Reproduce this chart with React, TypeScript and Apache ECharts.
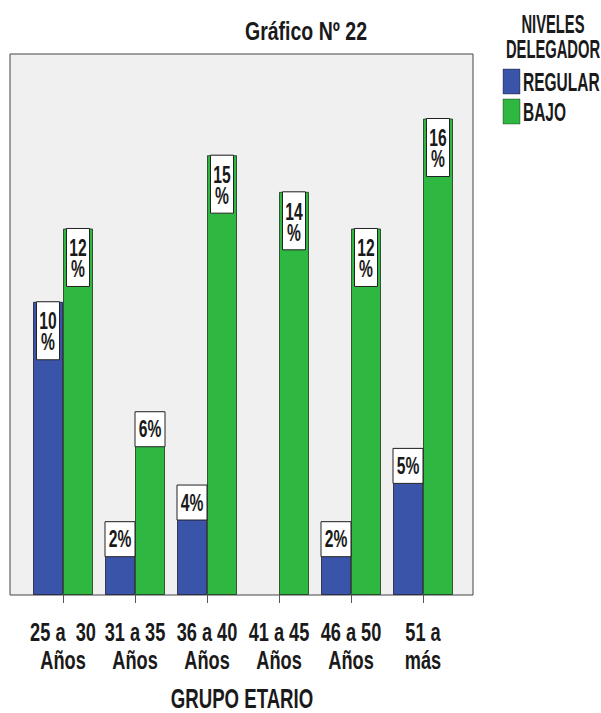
import React, { useEffect, useRef } from "react";
import * as echarts from "echarts";

const categories = ["25 a  30\nAños", "31 a 35\nAños", "36 a 40\nAños", "41 a 45\nAños", "46 a 50\nAños", "51 a\nmás"];
const seriesNames = ["REGULAR", "BAJO"];
const seriesColors = ["#3A54AA", "#2EB842"];
// bar heights (counts)
const regularValues = [8, 2, 3, 0, 2, 4];
const bajoValues = [10, 5, 12, 11, 10, 13];
// percentage labels shown on the bars
const regularPct = ["10", "2", "4", "", "2", "5"];
const bajoPct = ["12", "6", "15", "14", "12", "16"];
const titleText = "Gráfico Nº 22";
const legendTitle = "NIVELES\nDELEGADOR";
const axisTitle = "GRUPO ETARIO";

const FONT = "'Liberation Sans', Arial, sans-serif";
const BAR_W = 30;
const TEXT_COLOR = "#1a1a1a";

function barData(values: number[]) {
  return values.map((v) => (v === 0 ? { value: v, itemStyle: { borderWidth: 0 } } : v));
}

function labelSeries(values: number[], pcts: string[], offset: number) {
  return {
    type: "custom",
    z: 5,
    silent: true,
    clip: false,
    encode: { x: 0, y: 1 },
    data: values.map((v, i) => [i, v]),
    renderItem: (params: any, api: any) => {
      const i = params.dataIndex;
      const v = values[i];
      if (!v) return null;
      const pt = api.coord([i, v]);
      const two = pcts[i].length >= 2;
      const w = two ? 23 : 30;
      const h = two ? 58 : 35;
      const cx = pt[0] + offset;
      return {
        type: "group",
        children: [
          {
            type: "rect",
            shape: { x: cx - w / 2, y: pt[1], width: w, height: h },
            style: { fill: "#ffffff", stroke: "#222", lineWidth: 1 },
          },
          {
            type: "text",
            x: cx,
            y: pt[1] + (two ? 30 : 17.5),
            scaleX: 0.68,
            style: {
              text: two ? pcts[i] + "\n%" : pcts[i] + "%",
              fontSize: 23,
              lineHeight: 21,
              fontWeight: "bold",
              fontFamily: FONT,
              fill: TEXT_COLOR,
              align: "center",
              verticalAlign: "middle",
            },
          },
        ],
      };
    },
  };
}

function categoryLabelSeries() {
  return {
    type: "custom",
    z: 5,
    silent: true,
    clip: false,
    encode: { x: 0, y: 1 },
    data: categories.map((_, i) => [i, 0]),
    renderItem: (params: any, api: any) => {
      const i = params.dataIndex;
      const pt = api.coord([i, 0]);
      const lines = categories[i].split("\n");
      return {
        type: "group",
        children: lines.map((ln, k) => ({
          type: "text",
          x: pt[0],
          y: pt[1] + 37 + k * 28,
          scaleX: 0.7,
          style: {
            text: ln,
            fontSize: 26,
            fontWeight: "bold",
            fontFamily: FONT,
            fill: TEXT_COLOR,
            align: "center",
            verticalAlign: "middle",
          },
        })),
      };
    },
  };
}

export default function App() {
  const ref = useRef<HTMLDivElement>(null);
  useEffect(() => {
    if (!ref.current) return;
    const chart = echarts.init(ref.current, undefined, { renderer: "svg" });
    const legendItems: any[] = [];
    seriesNames.forEach((n, k) => {
      legendItems.push({
        type: "rect",
        shape: { x: 503, y: 69 + k * 30, width: 17, height: 25 },
        style: { fill: seriesColors[k], stroke: "rgba(0,0,0,0.35)", lineWidth: 1 },
      });
      legendItems.push({
        type: "text",
        x: 523,
        y: 82 + k * 30,
        scaleX: 0.62,
        style: {
          text: n,
          fontSize: 25,
          fontWeight: "bold",
          fontFamily: FONT,
          fill: TEXT_COLOR,
          align: "left",
          verticalAlign: "middle",
        },
      });
    });
    chart.setOption({
      animation: false,
      backgroundColor: "#ffffff",
      grid: { left: 27, right: 142, top: 54, bottom: 118, containLabel: false },
      graphic: [
        {
          type: "rect",
          z: -10,
          shape: { x: 10, y: 54, width: 463, height: 541 },
          style: { fill: "#F0F0F0", stroke: "#444", lineWidth: 1 },
        },
        {
          type: "text",
          x: 306,
          y: 31,
          scaleX: 0.75,
          style: {
            text: titleText,
            fontSize: 26,
            fontWeight: "bold",
            fontFamily: FONT,
            fill: TEXT_COLOR,
            align: "center",
            verticalAlign: "middle",
          },
        },
        {
          type: "text",
          x: 553,
          y: 36,
          scaleX: 0.59,
          style: {
            text: legendTitle,
            fontSize: 25,
            lineHeight: 25,
            fontWeight: "bold",
            fontFamily: FONT,
            fill: TEXT_COLOR,
            align: "center",
            verticalAlign: "middle",
          },
        },
        {
          type: "text",
          x: 242,
          y: 699,
          scaleX: 0.69,
          style: {
            text: axisTitle,
            fontSize: 27,
            fontWeight: "bold",
            fontFamily: FONT,
            fill: TEXT_COLOR,
            align: "center",
            verticalAlign: "middle",
          },
        },
        ...legendItems,
      ],
      xAxis: {
        type: "category",
        data: categories,
        axisLine: { show: false },
        axisTick: { show: true, alignWithLabel: true, length: 8, lineStyle: { color: "#555" } },
        axisLabel: { show: false },
      },
      yAxis: { type: "value", min: 0, max: 14.76, show: false, splitLine: { show: false } },
      series: [
        {
          name: seriesNames[0],
          type: "bar",
          barWidth: BAR_W,
          barGap: "0%",
          itemStyle: { color: seriesColors[0], borderColor: "rgba(20,20,40,0.75)", borderWidth: 1 },
          data: barData(regularValues),
        },
        {
          name: seriesNames[1],
          type: "bar",
          barWidth: BAR_W,
          barGap: "0%",
          itemStyle: { color: seriesColors[1], borderColor: "rgba(20,40,20,0.75)", borderWidth: 1 },
          data: barData(bajoValues),
        },
        labelSeries(regularValues, regularPct, -BAR_W / 2),
        labelSeries(bajoValues, bajoPct, BAR_W / 2),
        categoryLabelSeries(),
      ],
    });
    return () => chart.dispose();
  }, []);
  return <div ref={ref} style={{ width: 601, height: 713, position: "absolute", left: 0, top: 0 }} />;
}
